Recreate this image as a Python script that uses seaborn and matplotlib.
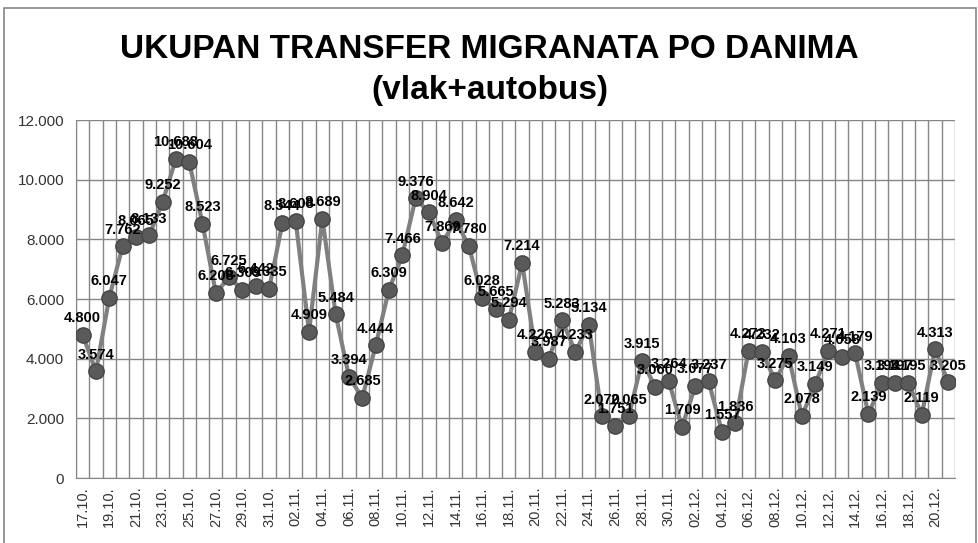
import matplotlib
matplotlib.use("Agg")
import matplotlib.pyplot as plt
import matplotlib.ticker as mticker
import seaborn as sns
import pandas as pd
import numpy as np

# ------------------------------
# Data
# ------------------------------
days = ["17.10.", "18.10.", "19.10.", "20.10.", "21.10.", "22.10.", "23.10.", "24.10.",
        "25.10.", "26.10.", "27.10.", "28.10.", "29.10.", "30.10.", "31.10.",
        "01.11.", "02.11.", "03.11.", "04.11.", "05.11.", "06.11.", "07.11.", "08.11.",
        "09.11.", "10.11.", "11.11.", "12.11.", "13.11.", "14.11.", "15.11.", "16.11.",
        "17.11.", "18.11.", "19.11.", "20.11.", "21.11.", "22.11.", "23.11.", "24.11.",
        "25.11.", "26.11.", "27.11.", "28.11.", "29.11.", "30.11.",
        "01.12.", "02.12.", "03.12.", "04.12.", "05.12.", "06.12.", "07.12.", "08.12.",
        "09.12.", "10.12.", "11.12.", "12.12.", "13.12.", "14.12.", "15.12.", "16.12.",
        "17.12.", "18.12.", "19.12.", "20.12.", "21.12."]

migrants = [4800, 3574, 6047, 7762, 8065, 8133, 9252, 10688,
            10604, 8523, 6208, 6725, 6309, 6442, 6335,
            8544, 8608, 4909, 8689, 5484, 3394, 2685, 4444,
            6309, 7466, 9376, 8904, 7869, 8642, 7780, 6028,
            5665, 5294, 7214, 4226, 3987, 5283, 4233, 5134,
            2070, 1751, 2065, 3915, 3060, 3264,
            1709, 3077, 3237, 1557, 1836, 4273, 4232, 3275,
            4103, 2078, 3149, 4271, 4058, 4179, 2139, 3194,
            3197, 3195, 2119, 4313, 3205]

title_lines = ["UKUPAN TRANSFER MIGRANATA PO DANIMA", "(vlak+autobus)"]

df = pd.DataFrame({"dan": days, "broj": migrants})
df["idx"] = range(len(df))


def fmt_dot(v, pos=None):
    return f"{int(round(v)):,}".replace(",", ".")


# ------------------------------
# Plot
# ------------------------------
sns.set_style("white")
plt.rcParams["font.family"] = ["Liberation Sans", "DejaVu Sans"]

fig = plt.figure(figsize=(9.79, 5.43), dpi=100)
ax = fig.add_axes([0.0776, 0.1197, 0.8979, 0.6593])

sns.lineplot(data=df, x="idx", y="broj", ax=ax, color="#808080", linewidth=3,
             marker="o", markersize=11, markerfacecolor="#5a5a5a",
             markeredgecolor="#454545", markeredgewidth=1, zorder=3)

# data labels above each point
for i, v in zip(df["idx"], df["broj"]):
    ax.annotate(fmt_dot(v), (i, v), xytext=(0, 7), textcoords="offset points",
                ha="center", va="bottom", fontsize=10.5, fontweight="bold",
                color="black", zorder=4)

ax.set_xlim(-0.5, len(days) - 0.5)
ax.set_ylim(0, 12000)
ax.yaxis.set_major_locator(mticker.MultipleLocator(2000))
ax.yaxis.set_major_formatter(mticker.FuncFormatter(fmt_dot))

ax.set_xticks(df["idx"][::2])
ax.set_xticklabels(df["dan"][::2], rotation=90, fontsize=10.5, color="#333333")
ax.set_xticks(np.arange(-0.5, len(days), 1), minor=True)
ax.tick_params(axis="x", which="major", length=0, pad=6)
ax.tick_params(axis="x", which="minor", length=5, color="#868686", direction="out")
ax.tick_params(axis="y", length=5, color="#868686", direction="out", labelsize=11,
               labelcolor="#333333")

ax.grid(axis="y", which="major", color="#868686", linewidth=1)
ax.grid(axis="x", which="minor", color="#868686", linewidth=1)
ax.grid(axis="x", which="major", visible=False)
ax.set_axisbelow(True)

for side in ["top", "right"]:
    ax.spines[side].set_visible(False)
for side in ["left", "bottom"]:
    ax.spines[side].set_color("#868686")

ax.set_xlabel("")
ax.set_ylabel("")

fig.text(0.5, 0.908, title_lines[0], ha="center", va="center",
         fontsize=24, fontweight="bold", color="black")
fig.text(0.5, 0.834, title_lines[1], ha="center", va="center",
         fontsize=24, fontweight="bold", color="black")

# outer frame of the chart area
fig.add_artist(plt.Rectangle((0.004, -0.05), 0.993, 1.035, transform=fig.transFigure,
                             fill=False, edgecolor="#868686", linewidth=1.2))

plt.savefig("out.png", dpi=100)
